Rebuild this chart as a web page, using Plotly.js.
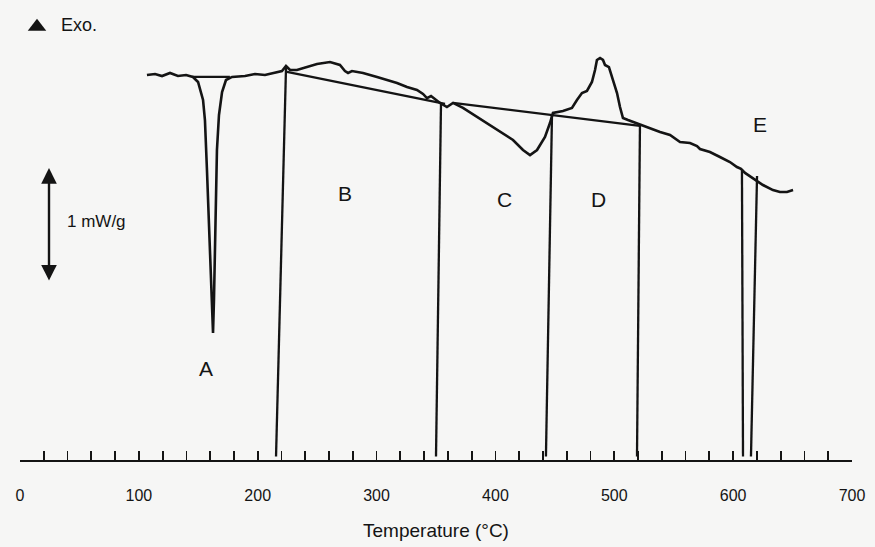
<!DOCTYPE html>
<html>
<head>
<meta charset="utf-8">
<script src="https://cdn.plot.ly/plotly-3.0.1.min.js"></script>
<style>html,body{margin:0;padding:0;background:#f6f6f5;}#chart{width:875px;height:547px;}</style>
</head>
<body>
<div id="chart"></div>
<script>
// DSC curve: temperature (°C) and heat flow (mW/g, arbitrary offset)
const tempC = [106.8,113.6,119.5,126.2,132.9,139.7,145.5,149.8,154.0,155.6,157.3,159.0,160.7,162.4,163.2,164.1,164.9,165.7,167.4,170.0,173.3,178.4,189.3,197.7,206.1,214.5,220.4,223.8,227.2,233.0,241.5,249.9,260.8,269.2,273.4,276.0,279.3,288.6,300.4,308.8,317.2,325.6,334.0,339.1,342.4,345.8,353.4,359.2,364.3,372.7,384.5,392.9,403.8,414.8,423.2,429.1,435.0,441.7,445.9,448.4,456.8,464.4,468.6,472.8,477.0,481.2,483.8,485.4,488.0,490.5,492.2,495.5,498.9,502.3,504.8,507.3,511.5,515.7,521.6,530.0,538.5,546.9,555.3,563.7,569.6,572.1,580.5,588.9,597.3,603.2,606.6,610.0,616.7,625.1,633.5,639.4,645.3,650.4];
const heatFlow = [3.377,3.386,3.368,3.395,3.368,3.377,3.360,3.316,3.158,2.982,2.544,2.018,1.491,1.114,1.404,1.842,2.281,2.719,3.026,3.228,3.333,3.360,3.368,3.386,3.377,3.395,3.412,3.456,3.421,3.421,3.447,3.474,3.491,3.465,3.412,3.395,3.412,3.395,3.360,3.333,3.307,3.272,3.246,3.211,3.175,3.193,3.132,3.096,3.132,3.088,3.009,2.956,2.877,2.807,2.719,2.675,2.719,2.833,2.956,3.044,3.061,3.088,3.158,3.219,3.237,3.316,3.421,3.509,3.526,3.509,3.465,3.447,3.333,3.219,3.096,3.000,2.982,2.965,2.939,2.912,2.877,2.851,2.789,2.781,2.754,2.728,2.702,2.658,2.614,2.570,2.553,2.518,2.474,2.412,2.368,2.351,2.351,2.368];

// Integration baselines (start T, start y, end T, end y)
const baseStartT = [145.0, 224.6, 364.3];
const baseStartY = [3.360, 3.404, 3.132];
const baseEndT   = [176.6, 357.6, 521.6];
const baseEndY   = [3.360, 3.123, 2.930];

// Integration limit lines (top T, top y, bottom T)
const limTopT = [223.8, 354.2, 447.6, 521.6, 607.4, 620.1];
const limTopY = [3.439, 3.123, 3.035, 2.939, 2.553, 2.491];
const limBotT = [215.4, 350.0, 442.5, 519.1, 608.3, 615.0];
const limBotY = 0.03;

// Region labels
const regionLabels = ['A','B','C','D','E'];
const regionT = [156.5, 273.4, 408.0, 486.3, 622.6];
const regionY = [0.807, 2.342, 2.281, 2.281, 2.939];

const tickVals = [0,100,200,300,400,500,600,700];
const tickText = ['0','100','200','300','400','500','600','700'];

const ink = '#141414';
const traces = [];
traces.push({x: tempC, y: heatFlow, mode:'lines', line:{color:ink, width:2.6, shape:'linear'}, hoverinfo:'skip'});
for (let i=0;i<baseStartT.length;i++){
  traces.push({x:[baseStartT[i], baseEndT[i]], y:[baseStartY[i], baseEndY[i]], mode:'lines', line:{color:ink,width:2.3}, hoverinfo:'skip'});
}
for (let i=0;i<limTopT.length;i++){
  traces.push({x:[limTopT[i], limBotT[i]], y:[limTopY[i], limBotY], mode:'lines', line:{color:ink,width:2.3}, hoverinfo:'skip'});
}
// Exo marker
traces.push({x:[14.3], y:[3.80], mode:'markers', marker:{symbol:'triangle-up', size:16, color:ink}, hoverinfo:'skip'});

const annotations = regionLabels.map((t,i)=>({x:regionT[i], y:regionY[i], xref:'x', yref:'y', text:t, showarrow:false, font:{family:'Liberation Sans, Arial, sans-serif', size:21, color:ink}}));
annotations.push({x:33, y:3.816, xref:'x', yref:'y', text:'Exo.', xanchor:'left', showarrow:false, font:{family:'Liberation Sans, Arial, sans-serif', size:18, color:ink}});
annotations.push({x:38, y:2.09, xref:'x', yref:'y', text:'1 mW/g', xanchor:'left', showarrow:false, font:{family:'Liberation Sans, Arial, sans-serif', size:17, color:ink}});
// 1 mW/g scale bar (double arrow)
annotations.push({x:24.4, y:2.561, ax:24.4, ay:1.561, xref:'x', yref:'y', axref:'x', ayref:'y', text:'', showarrow:true, arrowhead:2, arrowside:'end+start', arrowsize:1.3, arrowwidth:2.4, arrowcolor:ink, standoff:0, startstandoff:0});

const layout = {
  width:875, height:547,
  margin:{l:20, r:23, t:0, b:87},
  paper_bgcolor:'#f6f6f5', plot_bgcolor:'#f6f6f5',
  showlegend:false,
  xaxis:{range:[0,700], showline:true, linecolor:ink, linewidth:2.2, showgrid:false, zeroline:false,
    ticks:'inside', ticklen:9, tickwidth:1.8, tickcolor:ink,
    tickmode:'array', tickvals:tickVals, ticktext:tickText,
    ticklabelstandoff:20,
    minor:{dtick:20, tick0:0, ticks:'inside', ticklen:9, tickwidth:1.8, tickcolor:ink, showgrid:false},
    tickfont:{family:'Liberation Sans Narrow, Arial Narrow, sans-serif', size:16, color:ink},
    title:{text:'Temperature (°C)', standoff:20, font:{family:'Liberation Sans Narrow, Arial Narrow, sans-serif', size:19, color:ink}},
    fixedrange:true},
  yaxis:{range:[0,4.035], visible:false, fixedrange:true},
  annotations: annotations
};
Plotly.newPlot('chart', traces, layout, {displayModeBar:false, staticPlot:true});
</script>
</body>
</html>
